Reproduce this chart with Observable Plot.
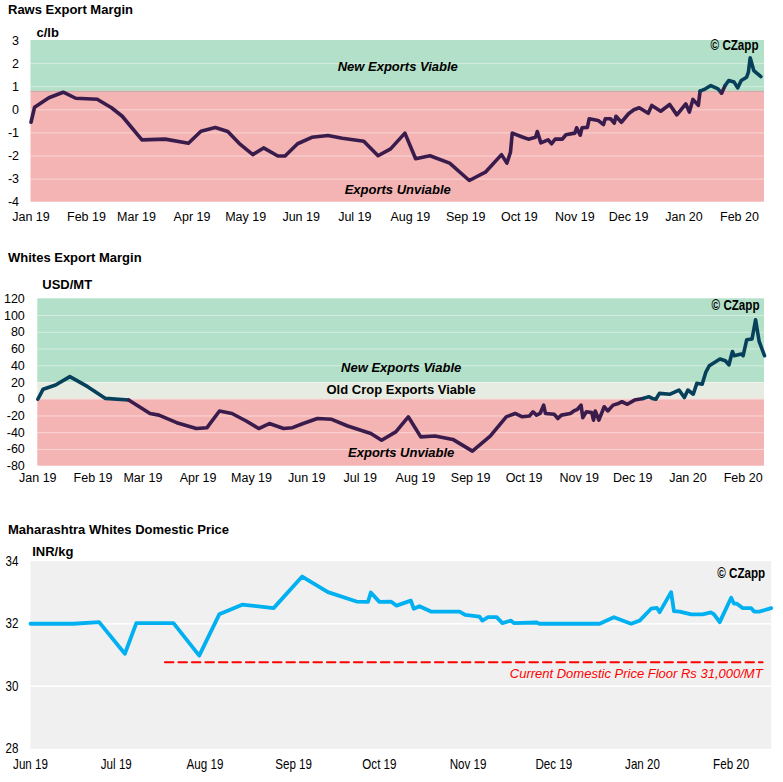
<!DOCTYPE html>
<html><head><meta charset="utf-8">
<script src="https://cdn.jsdelivr.net/npm/d3@7"></script>
<script src="https://cdn.jsdelivr.net/npm/@observablehq/plot@0.6"></script>
<style>
body{margin:0;background:#fff;font-family:"Liberation Sans",Arial,sans-serif;}
#wrap{position:relative;width:783px;height:782px;overflow:hidden;background:#fff;}
.title{position:absolute;left:8px;font-weight:bold;font-size:13px;line-height:20px;color:#000;white-space:nowrap;}
.chart{position:absolute;left:0;}
</style></head><body>
<div id="wrap">
  <div class="title" style="top:0px">Raws Export Margin</div>
  <div class="chart" id="c1" style="top:20px"></div>
  <div class="title" style="top:247.5px">Whites Export Margin</div>
  <div class="chart" id="c2" style="top:270px"></div>
  <div class="title" style="top:520px">Maharashtra Whites Domestic Price</div>
  <div class="chart" id="c3" style="top:540px"></div>
</div>
<script>
// ---------- DATA ----------
const rawsDates = ["2019-01-01","2019-01-03","2019-01-11","2019-01-19","2019-01-26","2019-02-07","2019-02-15","2019-02-21","2019-03-04","2019-03-17","2019-03-30","2019-04-06","2019-04-14","2019-04-21","2019-04-28","2019-05-05","2019-05-11","2019-05-19","2019-05-23","2019-05-30","2019-06-07","2019-06-16","2019-06-24","2019-07-06","2019-07-14","2019-07-21","2019-07-29","2019-08-04","2019-08-12","2019-08-23","2019-09-03","2019-09-12","2019-09-21","2019-09-24","2019-09-26","2019-09-27","2019-10-03","2019-10-06","2019-10-10","2019-10-11","2019-10-13","2019-10-17","2019-10-19","2019-10-21","2019-10-25","2019-10-27","2019-11-01","2019-11-02","2019-11-04","2019-11-05","2019-11-08","2019-11-09","2019-11-14","2019-11-17","2019-11-18","2019-11-21","2019-11-23","2019-11-24","2019-11-27","2019-12-01","2019-12-04","2019-12-07","2019-12-12","2019-12-14","2019-12-19","2019-12-24","2019-12-28","2020-01-02","2020-01-04","2020-01-06","2020-01-09","2020-01-10","2020-01-13","2020-01-16","2020-01-20","2020-01-22","2020-01-24","2020-01-26","2020-01-29","2020-01-31","2020-02-02","2020-02-05","2020-02-06","2020-02-07","2020-02-09","2020-02-13"];
const rawsValues = [-0.54,0.11,0.52,0.76,0.50,0.46,0.09,-0.28,-1.30,-1.27,-1.45,-0.93,-0.77,-0.94,-1.50,-1.94,-1.65,-2.00,-2.00,-1.47,-1.19,-1.11,-1.23,-1.36,-1.99,-1.69,-1.01,-2.12,-1.99,-2.31,-3.06,-2.70,-1.94,-2.31,-1.84,-1.01,-1.19,-1.27,-1.19,-0.94,-1.43,-1.30,-1.47,-1.27,-1.27,-1.08,-1.01,-0.78,-1.10,-0.78,-0.76,-0.39,-0.46,-0.64,-0.39,-0.39,-0.58,-0.28,-0.54,-0.17,0.00,0.09,-0.15,0.19,-0.06,0.23,-0.22,0.26,-0.10,0.45,0.19,0.81,0.91,1.05,0.91,0.72,1.05,1.27,1.20,0.95,1.27,1.41,1.63,2.25,1.70,1.44];
const rawsThreshold = 0.8;
const rawsTicks = [-4,-3,-2,-1,0,1,2,3];

const whitesDates = ["2019-01-01","2019-01-04","2019-01-11","2019-01-19","2019-01-29","2019-02-08","2019-02-21","2019-03-05","2019-03-10","2019-03-20","2019-03-31","2019-04-06","2019-04-13","2019-04-20","2019-04-28","2019-05-05","2019-05-11","2019-05-19","2019-05-24","2019-05-30","2019-06-07","2019-06-15","2019-06-24","2019-07-07","2019-07-13","2019-07-21","2019-07-28","2019-08-04","2019-08-12","2019-08-22","2019-09-02","2019-09-12","2019-09-21","2019-09-26","2019-09-30","2019-10-04","2019-10-06","2019-10-08","2019-10-10","2019-10-12","2019-10-13","2019-10-18","2019-10-20","2019-10-22","2019-10-27","2019-10-29","2019-10-31","2019-11-02","2019-11-03","2019-11-05","2019-11-08","2019-11-09","2019-11-10","2019-11-12","2019-11-15","2019-11-17","2019-11-20","2019-11-23","2019-11-25","2019-11-28","2019-12-02","2019-12-07","2019-12-10","2019-12-12","2019-12-14","2019-12-16","2019-12-22","2019-12-27","2019-12-30","2020-01-01","2020-01-04","2020-01-06","2020-01-09","2020-01-11","2020-01-13","2020-01-19","2020-01-22","2020-01-24","2020-01-26","2020-01-27","2020-01-31","2020-02-01","2020-02-03","2020-02-06","2020-02-08","2020-02-10","2020-02-13"];
const whitesValues = [0,12,17,27,15,1,-1,-17,-19,-28,-35,-34,-14,-17,-26,-35,-29,-35,-34,-29,-23,-24,-32,-41,-49,-39,-21,-45,-44,-48,-62,-44,-21,-17,-21,-20,-15,-19,-17,-7,-17,-18,-23,-19,-17,-14,-12,-7,-22,-15,-16,-25,-14,-25,-9,-14,-7,-5,-3,-6,-1,1,3,1,0,7,6,11,2,11,6,19,18,32,40,48,46,41,57,52,54,52,71,72,95,69,52];
const whitesOldCrop = 20;
const whitesTicks = [-80,-60,-40,-20,0,20,40,60,80,100,120];

const domDates = ["2019-06-01","2019-06-16","2019-06-25","2019-07-04","2019-07-08","2019-07-21","2019-07-30","2019-08-06","2019-08-14","2019-08-25","2019-09-04","2019-09-13","2019-09-23","2019-09-27","2019-09-28","2019-10-01","2019-10-05","2019-10-07","2019-10-12","2019-10-13","2019-10-15","2019-10-19","2019-10-29","2019-10-31","2019-11-05","2019-11-06","2019-11-08","2019-11-11","2019-11-13","2019-11-16","2019-11-17","2019-11-25","2019-11-26","2019-12-17","2019-12-22","2019-12-28","2019-12-31","2020-01-04","2020-01-06","2020-01-07","2020-01-11","2020-01-12","2020-01-14","2020-01-18","2020-01-22","2020-01-25","2020-01-26","2020-01-28","2020-02-01","2020-02-02","2020-02-03","2020-02-05","2020-02-08","2020-02-09","2020-02-11","2020-02-15"];
const domValues = [32.0,32.0,32.05,31.04,32.02,32.02,30.98,32.3,32.61,32.5,33.51,33.01,32.71,32.7,33.0,32.7,32.71,32.58,32.74,32.48,32.56,32.39,32.39,32.28,32.23,32.1,32.21,32.21,32.02,32.1,32.02,32.04,32.0,32.0,32.21,32.0,32.1,32.48,32.51,32.37,33.01,32.4,32.39,32.3,32.3,32.36,32.3,32.05,32.83,32.64,32.64,32.5,32.5,32.39,32.39,32.5];
const floorDates = ["2019-07-18","2020-02-12"];
const floorValue = 30.77;
const floorLabel = "Current Domestic Price Floor Rs 31,000/MT";
const domTicks = [28,30,32,34];

// ---------- STYLE ----------
const GREEN = "#b3e0c8", PINK = "#f4b4b4", OLDCROP = "#e6ece1";
const PURPLE = "#3a1c4c", TEAL = "#07405a";
const FONT = "'Liberation Sans', Arial, sans-serif";
const W = 783;
const parse = d3.utcParse("%Y-%m-%d");
const fmtInt = d => String(d);

const raws = rawsDates.map((d,i)=>({date:parse(d), value:rawsValues[i]}));
const whites = whitesDates.map((d,i)=>({date:parse(d), value:whitesValues[i]}));
const dom = domDates.map((d,i)=>({date:parse(d), value:domValues[i]}));
const floor = floorDates.map(d=>({date:parse(d), value:floorValue}));

const months1 = d3.utcMonths(parse("2019-01-01"), parse("2020-02-02"));
const months3 = d3.utcMonths(parse("2019-06-01"), parse("2020-02-02"));

const czapp = (dx, dy) => Plot.text(["© CZapp"], {frameAnchor:"top-right", dx, dy, textAnchor:"end", lineAnchor:"middle", fontFamily:FONT, fontWeight:"bold", fontSize:14.5, fill:"#000"});
const unit = (t, dx, dy) => Plot.text([t], {frameAnchor:"top-left", dx, dy, textAnchor:"start", lineAnchor:"middle", fontFamily:FONT, fontWeight:"bold", fontSize:13, fill:"#000"});
const bandText = (t, y, italic=true) => Plot.text([t], {y: () => y, textAnchor:"middle", lineAnchor:"middle", fontFamily:FONT, fontWeight:"bold", fontStyle: italic ? "italic" : "normal", fontSize:13, fill:"#000"});

function condense(el, k) {
  const len = el.getComputedTextLength();
  if (len > 0) { el.setAttribute("textLength", (len * k).toFixed(1)); el.setAttribute("lengthAdjust", "spacingAndGlyphs"); }
}

// ---------- CHART 1 ----------
const p1 = Plot.plot({
  width: W, height: 210, marginTop: 20, marginBottom: 28.3, marginLeft: 30.5, marginRight: 19,
  style: {fontFamily: FONT, fontSize: "12.5px", color: "#000", background: "transparent", overflow: "visible"},
  x: {type: "utc", domain: [parse("2019-01-01"), parse("2020-02-15")], ticks: months1, tickFormat: "%b %y", tickSize: 0, tickPadding: 10, label: null},
  y: {domain: [-4, 3], ticks: rawsTicks, tickFormat: fmtInt, tickSize: 0, tickPadding: 12, label: null},
  marks: [
    Plot.rect([0], {y1: () => rawsThreshold, y2: () => 3, fill: GREEN}),
    Plot.rect([0], {y1: () => -4, y2: () => rawsThreshold, fill: PINK}),
    Plot.ruleY(rawsTicks.filter(t => t > -4 && t < 3), {stroke: "#fff", strokeOpacity: 0.45}),
    Plot.ruleY([rawsThreshold], {stroke: "#9aa79f", strokeOpacity: 0.6}),
    bandText("New Exports Viable", 1.87),
    bandText("Exports Unviable", -3.45),
    Plot.line(raws, {x: "date", y: "value", z: null, stroke: d => d.value >= rawsThreshold ? TEAL : PURPLE, strokeWidth: 3.6, strokeLinejoin: "round"}),
    czapp(-6, 5),
    unit("c/lb", 5.5, -8)
  ]
});
document.getElementById("c1").appendChild(p1);

// ---------- CHART 2 ----------
const p2 = Plot.plot({
  width: W, height: 220, marginTop: 28.3, marginBottom: 24.3, marginLeft: 37.3, marginRight: 19,
  style: {fontFamily: FONT, fontSize: "12.5px", color: "#000", background: "transparent", overflow: "visible"},
  x: {type: "utc", domain: [parse("2019-01-01"), parse("2020-02-13")], ticks: months1, tickFormat: "%b %y", tickSize: 0, tickPadding: 7, label: null},
  y: {domain: [-80, 120], ticks: whitesTicks, tickFormat: fmtInt, tickSize: 0, tickPadding: 13, label: null},
  marks: [
    Plot.rect([0], {y1: () => whitesOldCrop, y2: () => 120, fill: GREEN}),
    Plot.rect([0], {y1: () => 0, y2: () => whitesOldCrop, fill: OLDCROP}),
    Plot.rect([0], {y1: () => -80, y2: () => 0, fill: PINK}),
    Plot.ruleY(whitesTicks.filter(t => t > -80 && t < 120), {stroke: "#fff", strokeOpacity: 0.45}),
    bandText("New Exports Viable", 38),
    bandText("Old Crop Exports Viable", 11.5, false),
    bandText("Exports Unviable", -64),
    Plot.line(whites, {x: "date", y: "value", z: null, stroke: d => d.value >= 0 ? TEAL : PURPLE, strokeWidth: 3.6, strokeLinejoin: "round"}),
    czapp(-5, 7),
    unit("USD/MT", 4.5, -13.5)
  ]
});
document.getElementById("c2").appendChild(p2);

// ---------- CHART 3 ----------
const p3 = Plot.plot({
  width: W, height: 242, marginTop: 20.7, marginBottom: 33.7, marginLeft: 30, marginRight: 12.3,
  style: {fontFamily: FONT, fontSize: "14.5px", color: "#000", background: "transparent", overflow: "visible"},
  x: {type: "utc", domain: [parse("2019-06-01"), parse("2020-02-15")], ticks: months3, tickFormat: "%b %y", tickSize: 0, tickPadding: 10, label: null},
  y: {domain: [28, 34], ticks: domTicks, tickFormat: fmtInt, tickSize: 0, tickPadding: 12, label: null},
  marks: [
    Plot.frame({fill: "#f0f0f0", stroke: null}),
    Plot.ruleY(domTicks.filter(t => t > 28 && t < 34), {stroke: "#fff", strokeWidth: 1.5}),
    Plot.line(floor, {x: "date", y: "value", stroke: "#ff0000", strokeWidth: 2, strokeDasharray: "8.5,5"}),
    Plot.text([floorLabel], {x: () => floor[1].date, y: () => floorValue, dy: 11.5, textAnchor: "end", lineAnchor: "middle", fontFamily: FONT, fontStyle: "italic", fontSize: 13, fill: "#ff0000"}),
    Plot.line(dom, {x: "date", y: "value", stroke: "#00b0f0", strokeWidth: 3.8, strokeLinejoin: "round"}),
    czapp(-6, 12.5),
    unit("INR/kg", 1.7, -9.5)
  ]
});
document.getElementById("c3").appendChild(p3);

document.querySelectorAll("svg text").forEach(el => {
  if (el.textContent === "© CZapp") condense(el, 0.8);
});
p3.querySelectorAll("text").forEach(el => {
  const t = el.textContent;
  if (/^\d+$/.test(t) || /^[A-Z][a-z]{2} \d{2}$/.test(t)) condense(el, 0.8);
});
</script>
</body></html>
